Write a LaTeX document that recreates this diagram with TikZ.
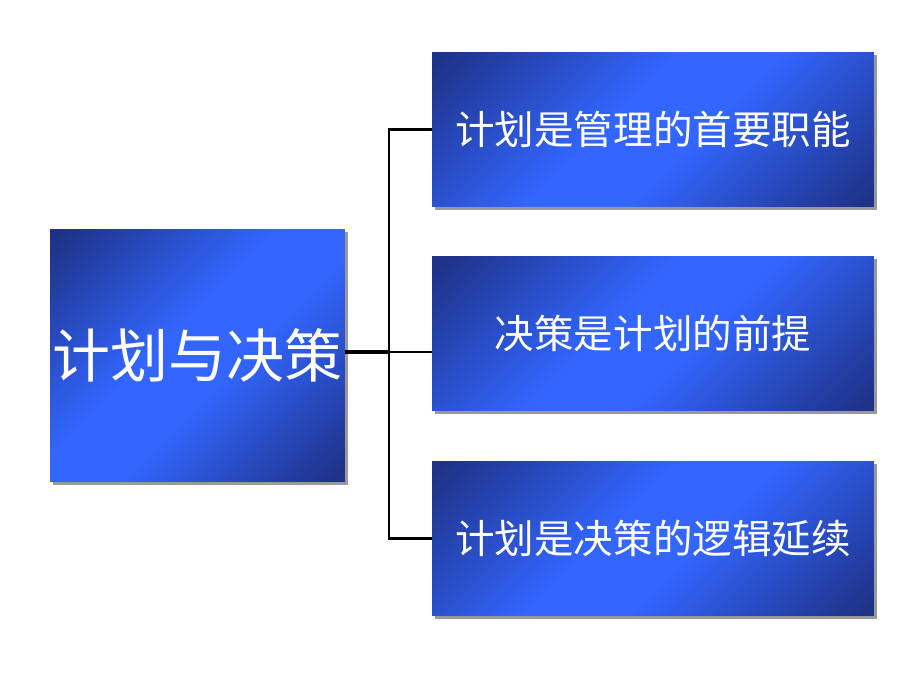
\documentclass[tikz,border=0pt]{standalone}
\usepackage{fontspec}
\newfontfamily\cjk{Noto Sans CJK SC}
\definecolor{boxdark}{RGB}{30,50,135}
\definecolor{boxlight}{RGB}{51,102,255}
\pgfdeclareverticalshading{boxshade}{100bp}{color(0bp)=(boxdark); color(16bp)=(boxdark);
  color(44bp)=(boxlight); color(56bp)=(boxlight); color(84bp)=(boxdark); color(100bp)=(boxdark)}
\tikzset{
  bluebox/.style={rectangle, inner sep=0pt, text=white,
    preaction={fill=gray!80, transform canvas={shift={(0.06cm,-0.06cm)}}},
    shading=boxshade, shading angle=45},
  trunk/.style={black, line width=2.3pt},
  branch/.style={black, line width=1.2pt}
}
\begin{document}
\begin{tikzpicture}[x=0.02cm, y=-0.02cm]
\useasboundingbox (0,0) rectangle (920,690);
% main box on the left
\node[bluebox, minimum width=5.9cm, minimum height=5.06cm, font=\cjk\fontsize{33}{33}\selectfont]
  (plan) at (197.5,355.5) {计划与决策};
% three boxes on the right
\node[bluebox, minimum width=8.84cm, minimum height=3.1cm, font=\cjk\fontsize{22.5}{22.5}\selectfont]
  (top) at (653,129.5) {计划是管理的首要职能};
\node[bluebox, minimum width=8.84cm, minimum height=3.1cm, font=\cjk\fontsize{22.5}{22.5}\selectfont]
  (mid) at (653,333.5) {决策是计划的前提};
\node[bluebox, minimum width=8.84cm, minimum height=3.1cm, font=\cjk\fontsize{22.5}{22.5}\selectfont]
  (bot) at (653,538.5) {计划是决策的逻辑延续};
%
% connectors
\coordinate (fork) at (389,352);
\draw[trunk] (plan.east |- fork) -- (fork);
\draw[branch] (top.west) -| (fork) |- (bot.west);
\draw[branch] (fork) -- (mid.west |- fork);
\end{tikzpicture}
\end{document}
